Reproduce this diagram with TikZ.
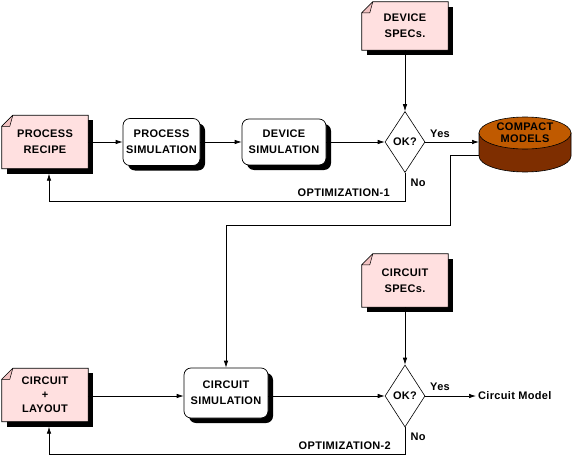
\documentclass[tikz,border=0pt]{standalone}
\usepackage{fontspec}
\setmainfont{Liberation Sans}[LetterSpace=3]
\usetikzlibrary{shapes.geometric,arrows.meta,backgrounds,calc,shadows}
\definecolor{docpink}{HTML}{FFE0E0}
\definecolor{foldpink}{HTML}{F2C2C2}
\definecolor{cyltop}{HTML}{C05A00}
\definecolor{cylside}{HTML}{7E2E00}
\newcommand\docbg[1]{%
  \fill[black] ($(#1.north west)+(5,5)$) rectangle ($(#1.south east)+(5,5)$);
  \filldraw[fill=docpink, line width=0.7pt] ($(#1.north west)+(0,11)$) -- ($(#1.north west)+(11,0)$) -- (#1.north east) -- (#1.south east) -- (#1.south west) -- cycle;
  \filldraw[fill=foldpink, line width=0.5pt, line join=round] ($(#1.north west)+(0,11)$) -- ($(#1.north west)+(11,0)$) -- ($(#1.north west)+(8,11)$) -- cycle;
}
\begin{document}
\begin{tikzpicture}[x=1pt,y=-1pt,
  font=\fontsize{11}{16}\selectfont\bfseries,
  conn/.style={line width=0.7pt},
  arr/.style={conn,-{Latex[length=7pt,width=4.5pt]}},
  docnode/.style={align=center, inner sep=0pt},
  simnode/.style={align=center, inner sep=0pt, draw, fill=white, rounded corners=7pt, line width=0.7pt,
    drop shadow={shadow xshift=5pt, shadow yshift=-5pt, opacity=1, fill=black}},
  decision/.style={diamond, draw, fill=white, line width=0.6pt, inner sep=0pt, aspect=0.65,
    minimum width=40pt, minimum height=61pt},
  lbl/.style={inner sep=0pt}]
\useasboundingbox (0,0) rectangle (572,457);

% row 1
\node[docnode, minimum width=86pt, minimum height=53pt] (pr) at (45,142) {PROCESS\\RECIPE};
\node[simnode, minimum width=77pt, minimum height=47pt] (ps) at (161.5,142) {PROCESS\\SIMULATION};
\node[simnode, minimum width=84pt, minimum height=46pt] (ds) at (284,142) {DEVICE\\SIMULATION};
\node[decision] (ok1) at (405,142) {OK?};
\node[docnode, minimum width=86pt, minimum height=48pt] (dspec) at (405,26) {DEVICE\\SPECs.};
\node[align=center, inner sep=0pt, font=\fontsize{11}{12}\selectfont\bfseries] (cm) at (525,133) {COMPACT\\MODELS};

% row 2
\node[docnode, minimum width=86pt, minimum height=53pt, font=\fontsize{11}{14}\selectfont\bfseries] (cl) at (45,395) {CIRCUIT\\+\\LAYOUT};
\node[simnode, minimum width=84pt, minimum height=50pt] (cs) at (226,393) {CIRCUIT\\SIMULATION};
\node[decision, minimum height=62pt] (ok2) at (405,396) {OK?};
\node[docnode, minimum width=86pt, minimum height=53pt] (cspec) at (405,280.5) {CIRCUIT\\SPECs.};
\node[anchor=west, inner sep=2pt] (cmod) at (476,396) {Circuit Model};

\begin{scope}[on background layer]
  \docbg{pr}
  \docbg{dspec}
  \docbg{cl}
  \docbg{cspec}
  \fill[cylside, draw=black, line width=0.6pt] ($(cm.center)+(-46,0)$) -- ++(0,23)
    arc[start angle=180, end angle=360, x radius=46pt, y radius=16pt] -- ++(0,-23) -- cycle;
  \filldraw[fill=cyltop, line width=0.6pt] (cm.center) ellipse [x radius=46pt, y radius=16pt];
\end{scope}

\coordinate (cmout) at ($(cm.center)+(-46,22)$);
\coordinate (k1) at (450,225);
\coordinate (f1) at (49,201);
\coordinate (f2) at (49,454);

% connectors row 1
\draw[arr] (pr.east |- ps.west) -- (ps.west);
\draw[arr] (ps.east) -- (ds.west);
\draw[arr] (ds.east) -- (ok1.west);
\draw[arr] (dspec.south) -- (ok1.north);
\draw[arr] (ok1.east) -- (ok1.east -| cmout);
\draw[arr] (ok1.south) |- (f1) -- ($(f1 |- pr.south)+(0,5)$);
\draw[arr] (cmout) -| (k1) -| (cs.north);

% connectors row 2
\draw[arr] (cl.east |- ok2.west) -- (ok2.west -| cs.west);
\draw[arr] (cs.east |- ok2.west) -- (ok2.west);
\draw[arr] (cspec.south) -- (ok2.north);
\draw[arr] (ok2.east) -- (cmod.west);
\draw[arr] (ok2.south) |- (f2) -- ($(f2 |- cl.south)+(0,5)$);

% labels
\node[lbl] (y1) at (440,134) {Yes};
\node[lbl] (n1) at (418,183) {No};
\node[lbl, anchor=east] (o1) at (390,193) {OPTIMIZATION-1};
\node[lbl] (y2) at (440,387) {Yes};
\node[lbl] (n2) at (418,437) {No};
\node[lbl, anchor=east] (o2) at (391,446) {OPTIMIZATION-2};
\end{tikzpicture}
\end{document}
